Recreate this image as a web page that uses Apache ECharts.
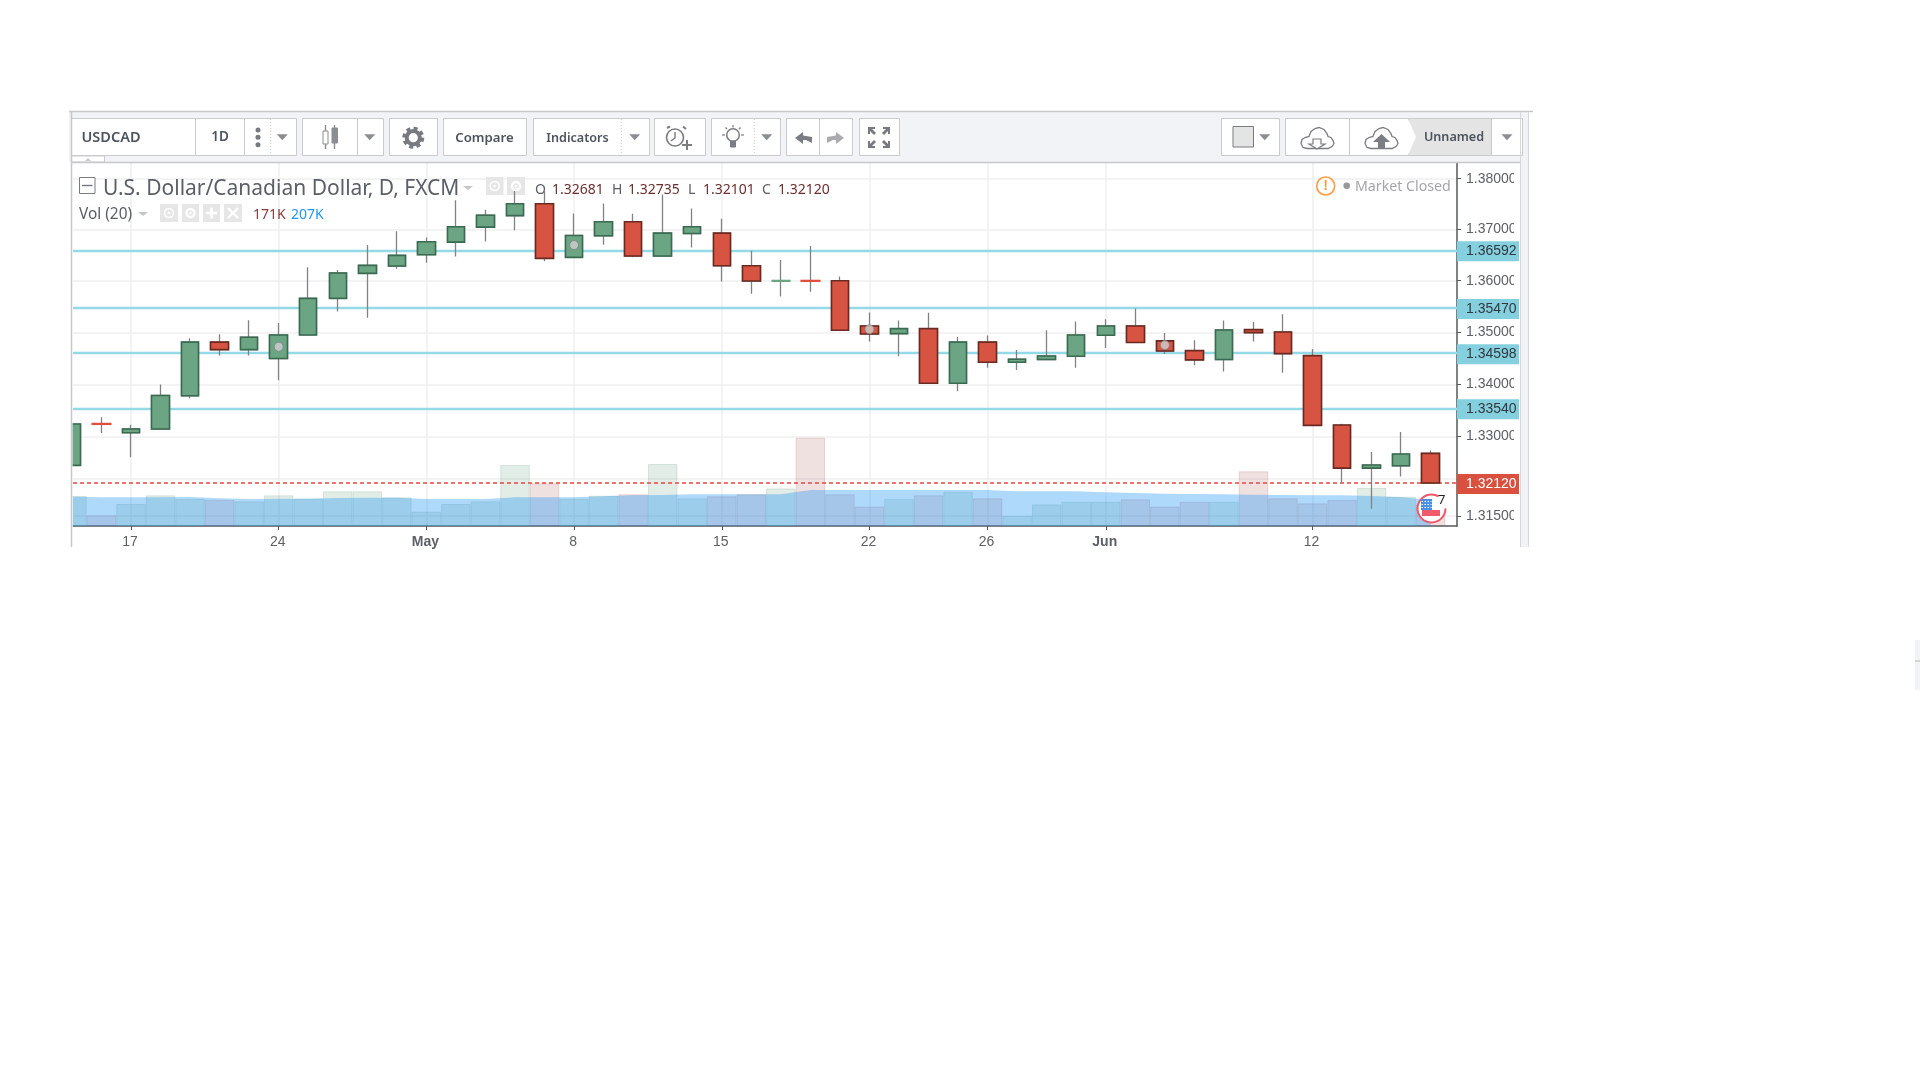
<!DOCTYPE html>
<html><head><meta charset="utf-8"><title>USDCAD</title>
<style>html,body{margin:0;padding:0;background:#fff}#c{width:1920px;height:1080px}</style>
<script src="https://cdn.jsdelivr.net/npm/echarts@6/dist/echarts.min.js"></script></head>
<body><div id="c"></div>
<script>
const opens=[1.32453,1.33245,1.33075,1.33145,1.3378,1.3481,1.34665,1.34494,1.34949,1.35656,1.36143,1.36286,1.36507,1.36753,1.37047,1.37273,1.37507,1.36455,1.36877,1.37153,1.36481,1.36922,1.36929,1.36292,1.35994,1.36,1.36,1.35123,1.34975,1.35071,1.34019,1.3481,1.34424,1.34475,1.34538,1.34943,1.35123,1.34835,1.34646,1.34475,1.35052,1.35006,1.34551,1.3322,1.32402,1.32447,1.32681];
const closes=[1.33239,1.33239,1.33145,1.33786,1.3481,1.34665,1.34905,1.34949,1.35656,1.3615,1.36299,1.36494,1.3676,1.37053,1.3728,1.37507,1.36435,1.36883,1.37153,1.36481,1.36929,1.37053,1.36292,1.35994,1.36,1.35994,1.35039,1.34968,1.35071,1.34019,1.3481,1.34424,1.34481,1.34544,1.34949,1.35123,1.34804,1.34639,1.34468,1.35045,1.34994,1.34589,1.33214,1.32402,1.3246,1.32669,1.3212];
const lows=[1.3245,1.33069,1.32606,1.33132,1.3373,1.34551,1.34551,1.34076,1.34943,1.35403,1.3528,1.36234,1.36351,1.36474,1.36766,1.36987,1.36377,1.36442,1.36701,1.36455,1.36474,1.3665,1.35987,1.35747,1.35695,1.35786,1.35032,1.34823,1.34538,1.34013,1.33868,1.34316,1.34272,1.34468,1.34316,1.34696,1.34797,1.34582,1.34367,1.34247,1.34823,1.34221,1.33208,1.3212,1.31633,1.32243,1.32101];
const highs=[1.33245,1.33371,1.33226,1.33994,1.34886,1.34962,1.35234,1.35182,1.3626,1.36208,1.36695,1.36968,1.36844,1.37573,1.37387,1.37773,1.37773,1.37313,1.37513,1.37307,1.37687,1.37413,1.37213,1.36584,1.36403,1.36675,1.36084,1.35383,1.35227,1.35377,1.34911,1.34937,1.34658,1.35039,1.35208,1.35253,1.35461,1.34987,1.34848,1.35227,1.35201,1.35351,1.34677,1.33245,1.32707,1.33088,1.32735];
const volumes=[239,85,175,244,215,207,196,244,217,276,276,228,114,175,196,485,339,215,241,252,493,220,236,252,299,702,252,154,215,244,273,220,80,172,193,193,212,154,193,193,435,220,180,207,302,233,171];
const volumeAverage=[233,228,228,228,231,220,215,217,217,223,225,225,215,215,215,228,228,228,236,244,246,252,252,252,252,286,286,286,286,286,286,286,276,276,276,268,262,257,254,252,249,246,244,244,239,228,207];
const priceTicks=[1.38,1.37,1.36,1.35,1.34,1.33,1.315];
const faintGridLines=[1.3221];
const levelLines=[1.36592,1.3547,1.34598,1.3354];
const lastPrice=1.3212;
const dateTickIndex=[2,7,12,17,22,27,31,35,42];
const dateTickLabels=['17','24','May','8','15','22','26','Jun','12'];
const dividendMarks=[[7,1.34721],[17,1.36695],[27,1.35058],[37,1.34753]];

const FONT='"Noto Sans"', BORDER='#c9cbcd', GREY='#777b80', TXT='#4c525e';
const g=[];
const rect=(x,y,w,h,fill,stroke,z)=>g.push({type:'rect',silent:true,z:z||1,shape:{x,y,width:w,height:h},style:{fill:fill||'none',stroke:stroke||'none',lineWidth:1}});
const text=(x,y,t,o)=>{o=o||{};g.push({type:'text',silent:true,z:o.z||3,x,y:y+1,style:{text:t,fill:o.c||TXT,font:(o.w||'normal')+' '+(o.s||14)+'px '+(o.f||FONT),textAlign:o.a||'left',textVerticalAlign:'middle'}})};
const line=(x1,y1,x2,y2,c,w,dash,z)=>g.push({type:'line',silent:true,z:z||3,shape:{x1,y1,x2,y2},style:{stroke:c||GREY,lineWidth:w||1,lineDash:dash}});
const circ=(cx,cy,r,fill,stroke,w,z,dash)=>g.push({type:'circle',silent:true,z:z||3,shape:{cx,cy,r},style:{fill:fill||'none',stroke:stroke||'none',lineWidth:w||1,lineDash:dash}});
const poly=(pts,fill,stroke,w,z)=>g.push({type:'polygon',silent:true,z:z||3,shape:{points:pts},style:{fill:fill||'none',stroke:stroke||'none',lineWidth:w||1}});
const polyl=(pts,stroke,w)=>g.push({type:'polyline',silent:true,z:3,shape:{points:pts},style:{fill:'none',stroke,lineWidth:w||1.5}});
const tri=(cx,cy)=>poly([[cx-5.5,cy-3],[cx+5.5,cy-3],[cx,cy+3]],'#8a8d91');
const btn=(x1,x2,fill)=>rect(x1+.5,118.5,x2-x1,37,fill||'#fff',BORDER,2);

// frame and toolbar
rect(69,112,1460,50,'#f1f3f6');
rect(1520,112,9,435,'#f1f3f6');
line(69,111.5,1533,111.5,'#c6c8ca',1.5);
rect(40,164,32.5,364,'#fff',null,10);
line(71.5,112,71.5,547,'#c6c8ca',1.5,null,11);
line(1520.5,112,1520.5,547,'#d6d8da',1);
line(1528.5,112,1528.5,547,'#d6d8da',1);
line(71,162.5,1520,162.5,'#c6c8ca',1.5);
rect(71.5,156,33,6,'#fff',BORDER,2);
poly([[85,161],[91,161],[88,158]],'#c6c8ca');
rect(1915,640,5,50,'#f1f3f6');
line(1915,661,1920,661,'#c6c8ca',1.5);
[[71,195],[195,244],[244,296],[302,357],[357,383],[389,437],[443,526],[533,649],[654,705],[711,780],[786,819],[819,852],[859,899],[1221,1279],[1285,1349],[1349,1408],[1408,1491],[1491,1522]].forEach(b=>btn(b[0],b[1],b[0]===1408?'#e4e4e4':'#fff'));
poly([[1408,119],[1416,137],[1408,155]],'#fff',null,1,2);
text(81.5,137,'USDCAD',{s:14.5,w:'600'});
text(220,136,'1D',{s:13.5,w:'600',a:'center'});
text(484.5,137,'Compare',{s:13.2,w:'600',a:'center'});
text(577.5,137,'Indicators',{s:12.6,w:'600',a:'center'});
text(1454,136,'Unnamed',{s:12.6,w:'600',a:'center'});
[130,137.3,144.7].forEach(y=>circ(258,y,2.5,'#777b80'));
[270.7,621.3,754.3].forEach(x=>line(x,119,x,155,'#c9cbcd',1,[1,2]));
[282.3,369.7,634.7,766.7,1264.7,1507].forEach(x=>tri(x,137.3));
// chart type icon
line(325.5,125,325.5,149,'#8a8d91',1.4); rect(323,131,5,13,'#fff','#8a8d91',3);
line(334.5,125,334.5,149,'#8a8d91',1.4); rect(332,128,5.5,15,'#8a8d91','#8a8d91',3);
// gear
circ(413.3,137.7,9.3,null,'#777b80',3.4,3,[4,3.3]);
circ(413.3,137.7,6.6,'#fff','#777b80',4);
// alarm
circ(675,137.5,8.5,'#fff','#7a7d82',1.6);
polyl([[675,132],[675,138],[671,141]],'#7a7d82',1.4);
line(667,128,670,126.5,'#7a7d82',2); line(683,126.5,686,129,'#7a7d82',2);
line(687,140,687,150,'#7a7d82',2); line(682,145,692,145,'#7a7d82',2);
// bulb
circ(733,135,6.3,'#fff','#7a7d82',1.5);
rect(730.5,141,5,6,'#7a7d82','#7a7d82',3);
[[722,135,725,135],[741,135,744,135],[733,125,733,127.5],[725.5,127.5,727,129],[739,129,740.5,127.5]].forEach(l=>line(l[0],l[1],l[2],l[3],'#7a7d82',1.2));
// undo / redo
poly([[795,138],[803,132],[803,135.5],[812,137],[812,143],[806,140],[803,140],[803,144]],'#7a7d82');
poly([[844,138],[836,132],[836,135.5],[827,137],[827,143],[833,140],[836,140],[836,144]],'#a9abae');
// fullscreen
[[868,127,1,1],[890,127,-1,1],[868,148,1,-1],[890,148,-1,-1]].forEach(a=>{const[x,y,sx,sy]=a;
 poly([[x,y],[x+7*sx,y],[x+7*sx,y+2*sy],[x+4*sx,y+2*sy],[x+8*sx,y+6*sy],[x+6*sx,y+8*sy],[x+2*sx,y+4*sy],[x+2*sx,y+7*sy],[x,y+7*sy]],'#777b80');});
// swatch
rect(1233,126.5,20.5,20.5,'#e4e4e4','#777b80',3);
// clouds
const cloud=(x)=>{const y=127.5;
 poly([[6,21],[2,20],[0,16],[1,12],[4,10],[8,9],[10,4],[14,1],[18,0],[23,2],[26,6],[27,9],[30,10],[32,13],[33,16],[31,19],[27,21]].map(p=>[x+p[0],y+p[1]]),'#fff','#7a7d82',1.3);};
cloud(1301);cloud(1365);
poly([[1313,139],[1321,139],[1321,144],[1325,144],[1317,149],[1309,144],[1313,144]],'#fff','#7a7d82',1.2);
poly([[1378,142],[1385,142],[1385,149],[1378,149]],'#7a7d82');
poly([[1381.5,134],[1390,142],[1373,142]],'#7a7d82');

// legend
rect(79.5,177.5,15.5,16,'#fff','#777b80',3);
line(82,185.5,92.5,185.5,'#777b80',1.4);
text(103,188,'U.S. Dollar/Canadian Dollar, D, FXCM',{s:21,c:'#5a5e66'});
poly([[463,186],[473,186],[468,190]],'#c4c6c8');
[[486,177,17.5],[507,177,18],[160,204,18],[182,204,17],[203,204,17],[224,204,18]].forEach(b=>rect(b[0],b[1],b[2],18,'#e6e6e6',null,3));
[[494.7,186,'e'],[516,186,'g'],[169,213,'e'],[190.5,213,'g']].forEach(b=>{circ(b[0],b[1],b[2]==='e'?4.5:4,'#e6e6e6','#fff',b[2]==='e'?1.6:2.4,4);circ(b[0],b[1],1.3,'#fff',null,1,4);});
line(206,213,217,213,'#fff',2.6,null,4);line(211.5,207.5,211.5,218.5,'#fff',2.6,null,4);
line(228,208,238,218,'#fff',2.2,null,4);line(238,208,228,218,'#fff',2.2,null,4);
text(535,189,'O',{s:14,c:'#5a5e66'});
text(552,189,'1.32681',{s:14,c:'#6b2f2f'});
text(612,189,'H',{s:14,c:'#5a5e66'});
text(628,189,'1.32735',{s:14,c:'#6b2f2f'});
text(688,189,'L',{s:14,c:'#5a5e66'});
text(703,189,'1.32101',{s:14,c:'#6b2f2f'});
text(762,189,'C',{s:14,c:'#5a5e66'});
text(778,189,'1.32120',{s:14,c:'#6b2f2f'});
text(79,213.5,'Vol (20)',{s:15.4,c:'#5a5e66'});
poly([[138,212],[148,212],[143,216]],'#c4c6c8');
text(253,214.5,'171K',{s:14,c:'#8c3a3a'});
text(291,214.5,'207K',{s:14,c:'#2196f3'});
// market closed
circ(1325.7,186,9,'#fff','#ff9a3e',1.6);
text(1325.7,185,'!',{s:14,c:'#ff9a3e',a:'center',w:'600'});
circ(1346.7,185.7,3.3,'#999');
text(1355,185.5,'Market Closed',{s:14.2,c:'#a3a5a8'});
// news flag
circ(1431.5,508.5,14,'#fff','#f0566a',2,6,[73,15]);
rect(1421,499,19,11,'#fff',null,6);
rect(1422,510,18,6,'#ef5a6c',null,6);
rect(1421,499,11,11,'#4a90e2',null,7);
[501.5,504.5,507.5].forEach(y=>line(1421.5,y,1431.5,y,'#fff',1.2,[1.4,1.6],8));
text(1438,499.5,'7',{s:13,c:'#222',z:8});
// crop the tick labels as in the source
rect(1514,164,6,362,'#fff',null,10);

const wickData=opens.map((o,i)=>[i,o,closes[i],lows[i],highs[i]]);
const bodyData=opens.map((o,i)=>{const c=closes[i],item={value:[i,o,c,Math.min(o,c),Math.max(o,c)]};
  if(Math.abs(o-c)<0.0001){const col=c<o?'#e0503f':'#6ba583';item.itemStyle={color:col,color0:col,borderColor:col,borderColor0:col,borderColorDoji:col,borderWidth:2};}return item;});
const volData=volumes.map((v,i)=>({value:[i,v],itemStyle:closes[i]>=opens[i]?{color:'rgba(107,165,131,.2)',borderColor:'rgba(107,165,131,.22)',borderWidth:1}:{color:'rgba(172,87,87,.18)',borderColor:'rgba(172,87,87,.2)',borderWidth:1}}));
const tag=(v,bg,fg)=>({yAxis:v,lineStyle:{color:'transparent',width:0},label:{show:true,position:'end',distance:0,offset:[0,1],formatter:v.toFixed(5),color:fg,backgroundColor:bg,fontSize:14,fontFamily:'Liberation Sans',padding:[4,2,2,9],width:51,height:14,align:'left',lineHeight:14,verticalAlign:'middle'}});

const option={
 animation:false,backgroundColor:'#fff',
 graphic:{elements:g},
 grid:{left:73,top:163,width:1384,height:363,containLabel:false},
 xAxis:{type:'value',min:0.037,max:46.89,splitNumber:1,
  axisLine:{onZero:false,lineStyle:{color:'#55585c',width:1.5}},
  axisTick:{length:4,lineStyle:{color:'#55585c'},customValues:dateTickIndex},
  splitLine:{show:true,lineStyle:{color:'#efeff0',width:1.5}},
  axisLabel:{customValues:dateTickIndex,margin:9,fontSize:14,fontFamily:'Liberation Sans',color:'#5d6066',padding:[0,2,0,0],
    formatter:v=>{const l=dateTickLabels[dateTickIndex.indexOf(Math.round(v))];return /[A-Z]/.test(l)?'{b|'+l+'}':l},
    rich:{b:{fontWeight:'bold',fontSize:14,fontFamily:'Liberation Sans',color:'#5d6066'}}}},
 yAxis:[{type:'log',logBase:10,position:'right',min:1.3131,max:1.3831,
   axisLine:{show:true,lineStyle:{color:'#55585c',width:1.5}},
   axisTick:{show:true,length:4,inside:false,lineStyle:{color:'#55585c'},customValues:priceTicks.concat(faintGridLines)},
   splitLine:{show:true,lineStyle:{color:'#efeff0',width:1.5}},minorSplitLine:{show:false},
   axisLabel:{customValues:priceTicks,margin:9,fontSize:14,fontFamily:'Liberation Sans',color:'#5d6066',padding:[4,0,0,0],formatter:v=>v.toFixed(5)}},
  {type:'value',min:0,max:2886,show:false,splitLine:{show:false}}],
 series:[
  {name:'Volume',type:'bar',yAxisIndex:1,data:volData,barWidth:29.5,z:1,barGap:0,silent:true},
  {name:'Volume MA',type:'line',yAxisIndex:1,data:volumeAverage.map((v,i)=>[i,v]),showSymbol:false,lineStyle:{width:0},areaStyle:{color:'rgba(33,150,243,.36)',opacity:1},z:2,silent:true,smooth:false},
  {name:'Levels',type:'line',data:[],z:2,silent:true,markLine:{silent:true,symbol:'none',animation:false,z:2,precision:5,label:{show:false},
    data:levelLines.map(v=>({yAxis:v,lineStyle:{color:'#93d9e6',width:2.4,type:'solid'}})).concat([{yAxis:lastPrice,lineStyle:{color:'#e8473f',width:1.6,type:[4,3]}}])}},
  {name:'USDCAD wicks',type:'candlestick',data:wickData,encode:{x:0,y:[1,2,3,4]},barWidth:18,z:3,silent:true,
    itemStyle:{color:'#808285',color0:'#808285',borderColor:'#808285',borderColor0:'#808285',borderWidth:1.3}},
  {name:'USDCAD',type:'candlestick',data:bodyData,encode:{x:0,y:[1,2,3,4]},barWidth:18,z:4,silent:true,
    itemStyle:{color:'#6ba583',color0:'#d75442',borderColor:'#3a6b52',borderColor0:'#6b2a20',borderWidth:1.6}},
  {name:'Marks',type:'scatter',data:dividendMarks,symbolSize:9,z:5,silent:true,itemStyle:{color:'#d0d0d0',borderColor:'#808285',borderWidth:1}},
  {name:'Tags',type:'line',data:[],z:20,silent:true,markLine:{silent:true,symbol:'none',animation:false,z:20,precision:5,
    data:levelLines.map(v=>tag(v,'#85d0df','#33373d')).concat([tag(lastPrice,'#d9503f','#fff')])}}
 ]};
const chart=echarts.init(document.getElementById('c'),null,{renderer:'canvas',width:1920,height:1080});
chart.setOption(option);
</script></body></html>
